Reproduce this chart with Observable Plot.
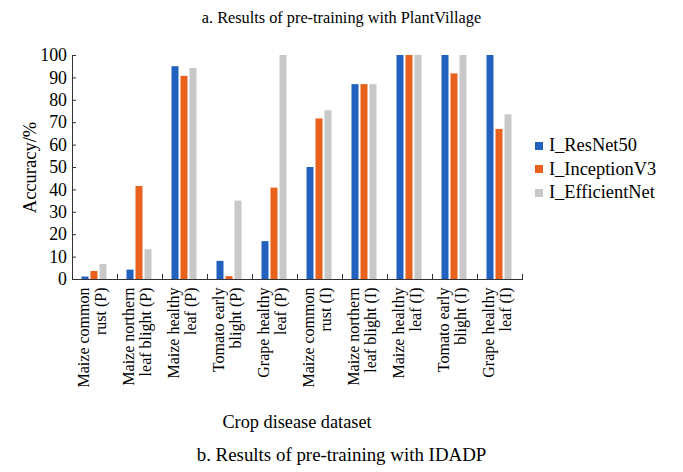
<!DOCTYPE html>
<html><head><meta charset="utf-8">
<script src="https://cdn.jsdelivr.net/npm/d3@7"></script>
<script src="https://cdn.jsdelivr.net/npm/@observablehq/plot@0.6"></script>
<style>
body{margin:0;background:#fff;font-family:"Liberation Serif",serif;color:#000}
#wrap{position:relative;width:683px;height:472px;overflow:hidden;background:#fff}
.t{position:absolute;text-align:center;white-space:nowrap}
#chart{position:absolute;left:0;top:30px}
#legend{position:absolute;left:535px;top:134px;font-size:18.4px}
.item{display:flex;align-items:center;height:23.5px}
.sw{width:8px;height:8px;margin-right:6px}
</style></head><body>
<div id="wrap">
<div class="t" style="top:8px;left:0;width:683px;font-size:16.3px;line-height:20px">a. Results of pre-training with PlantVillage</div>
<div id="chart"></div>
<div class="t" style="top:411px;left:68px;width:458px;font-size:18.3px;line-height:22px">Crop disease dataset</div>
<div class="t" style="top:444px;left:0;width:683px;font-size:18.9px;line-height:22px">b. Results of pre-training with IDADP</div>
<div id="legend"></div>
</div>
<script>
const categories = [
  "Maize common\nrust (P)",
  "Maize northern\nleaf blight (P)",
  "Maize healthy\nleaf (P)",
  "Tomato early\nblight (P)",
  "Grape healthy\nleaf (P)",
  "Maize common\nrust (I)",
  "Maize northern\nleaf blight (I)",
  "Maize healthy\nleaf (I)",
  "Tomato early\nblight (I)",
  "Grape healthy\nleaf (I)"
];
const models = ["I_ResNet50", "I_InceptionV3", "I_EfficientNet"];
const resnet50 = [1.1, 4.2, 95, 8.1, 16.9, 50, 87, 100, 100, 100];
const inceptionV3 = [3.6, 41.5, 90.7, 1.3, 40.8, 71.7, 87, 100, 91.8, 67];
const efficientNet = [6.7, 13.3, 94.2, 35, 100, 75.3, 87, 100, 100, 73.5];
const colors = ["#2361be", "#e8621e", "#c8c8c8"];
const yTicks = [0, 10, 20, 30, 40, 50, 60, 70, 80, 90, 100];

const series = [resnet50, inceptionV3, efficientNet];
const data = categories.flatMap((c, i) => models.map((m, j) => ({category: c, model: m, value: series[j][i]})));

const W = 683, H = 408, mT = 25, mB = 159, mL = 68.5, mR = 157.5;
const innerH = H - mT - mB;

const chart = Plot.plot({
  width: W, height: H,
  marginTop: mT, marginBottom: mB, marginLeft: mL, marginRight: mR,
  style: {fontFamily: '"Liberation Serif", serif', fontSize: "18px", color: "#000", background: "#fff"},
  fx: {domain: categories, padding: 0},
  x: {domain: models, paddingInner: 0.2, paddingOuter: 0.88, axis: null},
  y: {domain: [0, 100]},
  color: {domain: models, range: colors},
  marks: [
    Plot.barY(data, {fx: "category", x: "model", y: "value", fill: "model"}),
    Plot.ruleY([0], {stroke: "#333"}),
    Plot.frame({anchor: "left", fx: categories[0], stroke: "#333"}),
    Plot.frame({anchor: "left", insetTop: innerH - 5, stroke: "#333"}),
    Plot.frame({anchor: "right", insetTop: innerH - 5, stroke: "#333"}),
    Plot.axisY({ticks: yTicks, tickSize: -4, tickPadding: 9.5, fontSize: 17.8, label: null, stroke: "#333"}),
    Plot.axisY({ticks: [], tickSize: 0, fontSize: 18.5, label: "Accuracy/%", labelAnchor: "center", labelArrow: "none", labelOffset: 50}),
    Plot.axisFx({anchor: "bottom", tickSize: 0, tickPadding: 8, tickRotate: -90, fontSize: 16, label: null, lineHeight: 1.06, dx: -3})
  ]
});
document.getElementById("chart").appendChild(chart);

const legend = d3.select("#legend");
models.forEach((m, j) => {
  const it = legend.append("div").attr("class", "item");
  it.append("div").attr("class", "sw").style("background", colors[j]);
  it.append("span").text(m);
});
</script>
</body></html>
